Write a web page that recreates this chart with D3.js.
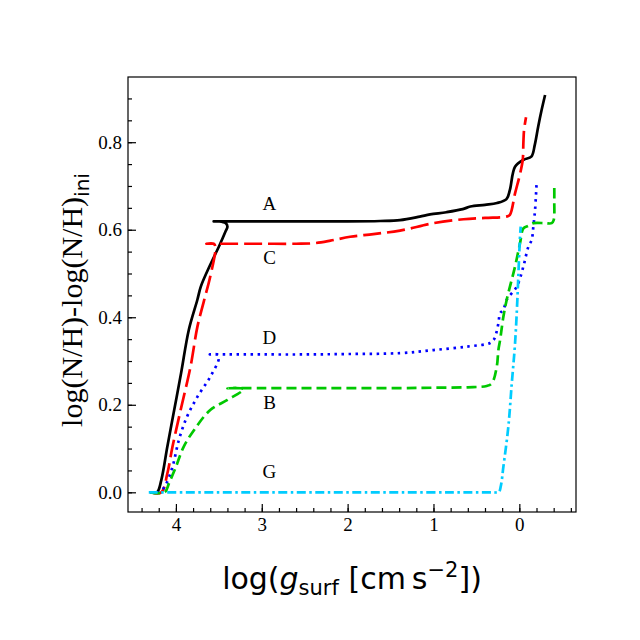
<!DOCTYPE html>
<html>
<head>
<meta charset="utf-8">
<script src="https://cdn.jsdelivr.net/npm/d3@7"></script>
<style>
  body { margin: 0; background: #fff; }
  svg { display: block; }
</style>
</head>
<body>
<div id="chart"></div>
<script>
// track names and their points: [log g, delta log(N/H)]
var trackNames = ["A", "C", "D", "B", "G"];

var trackA = [
  [4.30, 0.000], [4.22, 0.000], [4.17, 0.028], [4.10, 0.104], [4.02, 0.188],
  [3.94, 0.272], [3.85, 0.371], [3.75, 0.440], [3.71, 0.470], [3.60, 0.520],
  [3.50, 0.561], [3.42, 0.597], [3.40, 0.607], [3.42, 0.615], [3.50, 0.619],
  [3.56, 0.619], [3.40, 0.619], [3.00, 0.619], [2.50, 0.619], [2.00, 0.619],
  [1.62, 0.620], [1.39, 0.622], [1.16, 0.630], [1.04, 0.635], [0.85, 0.640],
  [0.66, 0.647], [0.57, 0.653], [0.40, 0.657], [0.26, 0.661], [0.15, 0.670],
  [0.11, 0.691], [0.05, 0.744], [-0.05, 0.760], [-0.14, 0.767], [-0.18, 0.794],
  [-0.22, 0.836], [-0.26, 0.874], [-0.30, 0.908]
];
var trackC = [
  [4.30, 0.000], [4.17, 0.000], [4.10, 0.043], [4.04, 0.104], [3.945, 0.188],
  [3.83, 0.287], [3.75, 0.378], [3.67, 0.440], [3.60, 0.493], [3.54, 0.561],
  [3.56, 0.568], [3.645, 0.568], [3.40, 0.568], [3.00, 0.568], [2.60, 0.568],
  [2.40, 0.569], [2.20, 0.575], [1.97, 0.584], [1.70, 0.590], [1.39, 0.598],
  [1.00, 0.615], [0.65, 0.624], [0.40, 0.627], [0.15, 0.630], [0.11, 0.634],
  [0.05, 0.683], [-0.01, 0.729], [-0.04, 0.760], [-0.047, 0.798], [-0.055, 0.828],
  [-0.078, 0.857]
];
var trackD = [
  [4.30, 0.000], [4.19, 0.000], [4.12, 0.017], [4.04, 0.058], [3.965, 0.120],
  [3.87, 0.173], [3.75, 0.218], [3.60, 0.264], [3.50, 0.306], [3.52, 0.315],
  [3.605, 0.315], [3.40, 0.315], [3.00, 0.315], [2.50, 0.315], [2.00, 0.316],
  [1.39, 0.318], [1.00, 0.325], [0.61, 0.333], [0.34, 0.341], [0.30, 0.348],
  [0.28, 0.356], [0.244, 0.386], [0.224, 0.409], [0.186, 0.417], [0.147, 0.440],
  [0.03, 0.470], [-0.047, 0.516], [-0.105, 0.561], [-0.144, 0.577], [-0.163, 0.607],
  [-0.183, 0.645], [-0.20, 0.702]
];
var trackB = [
  [4.30, 0.000], [4.13, 0.000], [4.08, 0.021], [4.00, 0.058], [3.91, 0.104],
  [3.79, 0.142], [3.60, 0.188], [3.40, 0.211], [3.21, 0.236], [3.40, 0.238],
  [3.00, 0.238], [2.50, 0.238], [2.00, 0.238], [1.39, 0.238], [1.00, 0.239],
  [0.60, 0.240], [0.38, 0.243], [0.32, 0.249], [0.263, 0.287], [0.244, 0.325],
  [0.224, 0.348], [0.186, 0.401], [0.147, 0.440], [0.05, 0.516], [-0.008, 0.569],
  [-0.047, 0.603], [-0.105, 0.609], [-0.163, 0.615], [-0.30, 0.615], [-0.377, 0.615],
  [-0.40, 0.622], [-0.407, 0.668], [-0.407, 0.702]
];
var trackG = [
  [4.316, 0.000], [3.80, 0.000], [3.30, 0.000], [2.80, 0.000], [2.30, 0.000],
  [1.80, 0.000], [1.30, 0.000], [0.80, 0.000], [0.45, 0.000], [0.30, 0.000],
  [0.24, 0.000], [0.215, 0.015], [0.186, 0.058], [0.128, 0.150], [0.088, 0.249],
  [0.05, 0.340], [0.023, 0.440], [0.012, 0.493], [-0.008, 0.584], [-0.016, 0.607]
];

// where the letters sit, in data units
var labelX = [2.91, 2.91, 2.91, 2.91, 2.91];
var labelY = [0.645, 0.522, 0.339, 0.190, 0.033];

var xTicks = [4, 3, 2, 1, 0];
var yTicks = [0.0, 0.2, 0.4, 0.6, 0.8];

var W = 640, H = 640;
var pLeft = 128, pRight = 576, pTop = 77, pBottom = 512;
var serif = "'Liberation Serif', 'Times New Roman', 'DejaVu Serif', serif";
var sans = "'DejaVu Sans', sans-serif";

var colors = { A: "#000000", C: "#ff0000", D: "#0000ff", B: "#00c800", G: "#00ccff" };
var dashes = { A: null, C: "18,6", D: "2.5,4.5", B: "10,5", G: "9,3.5,2.5,3.5" };
var tracks = { A: trackA, C: trackC, D: trackD, B: trackB, G: trackG };

var x = d3.scaleLinear().domain([4.558, -0.66]).range([pLeft, pRight]);
var y = d3.scaleLinear().domain([-0.045, 0.949]).range([pBottom, pTop]);

var svg = d3.select("#chart").append("svg")
  .attr("width", W).attr("height", H);

svg.append("clipPath").attr("id", "plotclip")
  .append("rect").attr("x", pLeft).attr("y", pTop)
  .attr("width", pRight - pLeft).attr("height", pBottom - pTop);

var line = d3.line()
  .curve(d3.curveCatmullRom.alpha(0.5))
  .x(function(d) { return x(d[0]); })
  .y(function(d) { return y(d[1]); });

var g = svg.append("g").attr("clip-path", "url(#plotclip)");
// draw order so G ends on top near the origin
["A", "C", "D", "B", "G"].forEach(function(k) {
  g.append("path")
    .attr("d", line(tracks[k]))
    .attr("fill", "none")
    .attr("stroke", colors[k])
    .attr("stroke-width", 2.7)
    .attr("stroke-linejoin", "round")
    .attr("stroke-dasharray", dashes[k]);
});

trackNames.forEach(function(k, i) {
  svg.append("text")
    .attr("x", x(labelX[i])).attr("y", y(labelY[i]))
    .attr("text-anchor", "middle")
    .style("font-family", serif)
    .style("font-size", "19px")
    .text(k);
});

// axes: ticks point inward, only bottom and left
var xAxis = d3.axisBottom(x).tickValues(xTicks).tickSize(-8).tickPadding(6)
  .tickFormat(d3.format("d"));
var xMinor = d3.axisBottom(x).tickValues(d3.range(-0.6, 4.55, 0.2)).tickSize(-4).tickFormat("");
var yAxis = d3.axisLeft(y).tickValues(yTicks).tickSize(-8).tickPadding(6)
  .tickFormat(d3.format(".1f"));
var yMinor = d3.axisLeft(y).tickValues(d3.range(0, 0.95, 0.05)).tickSize(-4).tickFormat("");

function styleAxis(sel) {
  sel.select(".domain").remove();
  sel.selectAll("line").attr("stroke", "#000").attr("stroke-width", 1.2);
  sel.selectAll("text")
    .style("font-family", serif)
    .style("font-size", "19px")
    .attr("fill", "#000");
}

svg.append("g").attr("transform", "translate(0," + pBottom + ")").call(xMinor).call(styleAxis);
svg.append("g").attr("transform", "translate(0," + pBottom + ")").call(xAxis).call(styleAxis);
svg.append("g").attr("transform", "translate(" + pLeft + ",0)").call(yMinor).call(styleAxis);
svg.append("g").attr("transform", "translate(" + pLeft + ",0)").call(yAxis).call(styleAxis);

svg.append("rect")
  .attr("x", pLeft).attr("y", pTop)
  .attr("width", pRight - pLeft).attr("height", pBottom - pTop)
  .attr("fill", "none").attr("stroke", "#000").attr("stroke-width", 1.2);

// x label
var xl = svg.append("text")
  .attr("x", (pLeft + pRight) / 2).attr("y", 589)
  .attr("text-anchor", "middle")
  .style("font-family", sans)
  .style("font-size", "30px");
xl.append("tspan").text("log(");
xl.append("tspan").style("font-style", "italic").text("g");
xl.append("tspan").style("font-size", "21px").attr("dy", 6).text("surf");
xl.append("tspan").attr("dy", -6).text(" [cm\u2009s");
xl.append("tspan").style("font-size", "21px").attr("dy", -12).text("\u22122");
xl.append("tspan").attr("dy", 12).text("])");

// y label
var yl = svg.append("text")
  .attr("transform", "translate(82,300) rotate(-90)")
  .attr("text-anchor", "middle")
  .style("font-family", serif)
  .style("font-size", "30px");
yl.append("tspan").text("log(N/H)-log(N/H)");
yl.append("tspan").style("font-family", sans)
  .style("font-size", "20px").attr("dy", 7).text("ini");
</script>
</body>
</html>
